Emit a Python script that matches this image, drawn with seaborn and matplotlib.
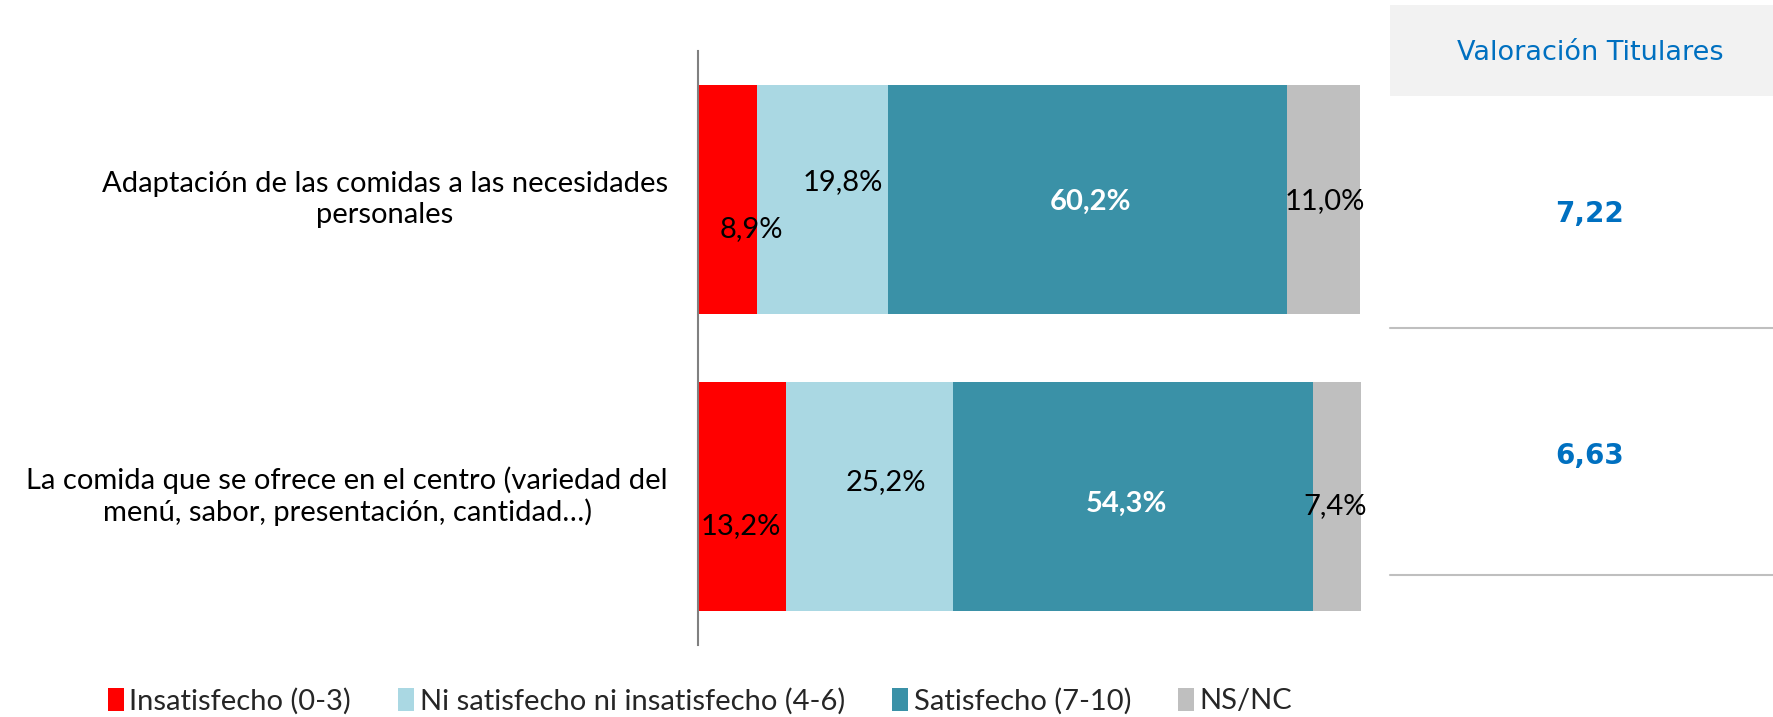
import matplotlib
matplotlib.use("Agg")
import matplotlib.pyplot as plt
import seaborn as sns
import numpy as np
import pandas as pd
from matplotlib.patches import Patch

categories = [
    "Adaptación de las comidas a las necesidades\npersonales",
    "La comida que se ofrece en el centro (variedad del\nmenú, sabor, presentación, cantidad…)",
]
series_names = ["Insatisfecho (0-3)", "Ni satisfecho ni insatisfecho (4-6)",
                "Satisfecho (7-10)", "NS/NC"]
insatisfecho = [8.9, 13.2]
ni_ni = [19.8, 25.2]
satisfecho = [60.2, 54.3]
nsnc = [11.0, 7.4]
valoracion = ["7,22", "6,63"]
table_header = "Valoración Titulares"

colors = ["#FF0000", "#AAD8E3", "#3A91A7", "#BFBFBF"]
label_colors = ["black", "black", "white", "black"]
label_weights = ["normal", "normal", "bold", "normal"]
# label offsets in pixels (dx, dy down positive) per series per bar
offsets = [
    [(24, 30), (-1, 30)],
    [(20, -17), (17, -14)],
    [(3, 2), (-6, 7)],
    [(1, 2), (-2, 10)],
]

sns.set_theme(style="white")
FONT = ["Lato", "DejaVu Sans"]
plt.rcParams["font.family"] = FONT

W, H = 1774, 717
fig = plt.figure(figsize=(W / 100, H / 100), dpi=100)
AX_L, AX_R = 698, 1361
ax = fig.add_axes([AX_L / W, 1 - 645 / H, (AX_R - AX_L) / W, (645 - 51) / H])

values = [insatisfecho, ni_ni, satisfecho, nsnc]
cum = np.cumsum(np.array(values), axis=0)
df = pd.DataFrame({"cat": categories})
for i in range(len(values) - 1, -1, -1):
    df["v"] = cum[i]
    sns.barplot(data=df, x="v", y="cat", color=colors[i], orient="h",
                width=0.77, saturation=1, ax=ax, linewidth=0)

ax.set_xlim(0, 100)
ax.set_ylim(1.5, -0.5)
ax.set_xlabel("")
ax.set_ylabel("")
ax.set_xticks([])
ax.set_yticks([])
for s in ["top", "right", "bottom"]:
    ax.spines[s].set_visible(False)
ax.spines["left"].set_color("#808080")
ax.spines["left"].set_linewidth(1.5)

# segment labels
for i, vals in enumerate(values):
    starts = cum[i] - np.array(vals)
    for j, v in enumerate(vals):
        cx = starts[j] + v / 2
        dx, dy = offsets[i][j]
        ax.annotate(f"{v:.1f}%".replace(".", ","), (cx, j),
                    xytext=(dx * 0.72, -dy * 0.72), textcoords="offset points",
                    ha="center", va="center", fontsize=21,
                    color=label_colors[i], fontweight=label_weights[i])

# category labels
for j, c in enumerate(categories):
    ax.annotate(c, (0, j), xytext=(-30 * 0.72, 0), textcoords="offset points",
                ha="right", va="center", multialignment="center",
                fontsize=21, color="black", annotation_clip=False)

# legend
handles = [Patch(facecolor=colors[i], edgecolor="none") for i in range(4)]
fig.legend(handles, series_names, loc="center", bbox_to_anchor=(700 / W, 1 - 701 / H),
           ncol=4, frameon=False, fontsize=21, handlelength=0.55, handleheight=0.85,
           handletextpad=0.2, columnspacing=1.6)

# table on right
tax = fig.add_axes([0, 0, 1, 1], facecolor="none")
tax.set_xlim(0, W)
tax.set_ylim(H, 0)
tax.axis("off")
tax.add_patch(plt.Rectangle((1390, 5), W - 1390, 91, facecolor="#F2F2F2", edgecolor="none"))
tax.text(1590, 53, table_header, ha="center", va="center", fontsize=19.5,
         color="#0070C0", family="DejaVu Sans")
for y in [328, 575]:
    tax.plot([1390, W], [y, y], color="#BFBFBF", lw=1.5)
for y, v in zip([214, 456], valoracion):
    tax.text(1590, y, v, ha="center", va="center", fontsize=20, fontweight="bold",
             color="#0070C0", family="DejaVu Sans")

fig.savefig("out.png", dpi=100)
